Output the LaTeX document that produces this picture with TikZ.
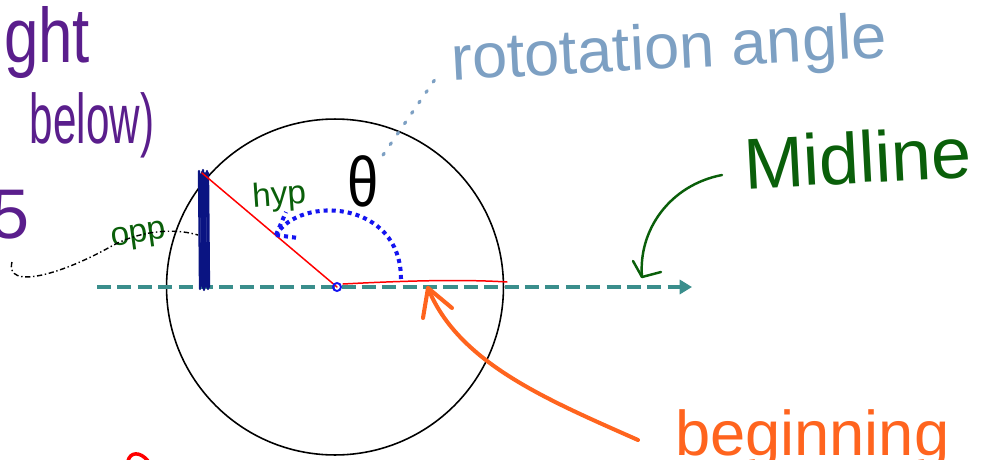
\documentclass[tikz,border=0pt]{standalone}
\usepackage{fontspec}
\setmainfont{Liberation Sans}
\usetikzlibrary{arrows.meta,calc}
\definecolor{tealc}{RGB}{58,142,140}
\definecolor{purp}{RGB}{90,30,140}
\definecolor{dgreen}{RGB}{10,95,10}
\definecolor{sky}{RGB}{125,160,195}
\definecolor{orng}{RGB}{255,100,30}
\definecolor{navyc}{RGB}{10,20,130}
\definecolor{bluec}{RGB}{20,20,240}
\begin{document}
\begin{tikzpicture}[x=0.02cm,y=-0.02cm,
  lbl/.style={inner sep=0pt,outer sep=0pt},
  hand/.style={line cap=round,line join=round},
  midl/.style={tealc,line width=2.6pt,dash pattern=on 8pt off 3.6pt,-{Triangle[length=7pt,width=8pt]}},
  redl/.style={red,line width=0.85pt,hand},
  bdots/.style={bluec,line width=2.3pt,dash pattern=on 2.3pt off 2.3pt},
  skydots/.style={sky,line width=1.8pt,dash pattern=on 1.2pt off 6pt,line cap=round},
  orarrow/.style={orng,line width=2.3pt,hand},
  grarrow/.style={dgreen,line width=1.4pt,hand}]
\clip (0,0) rectangle (981,460);
\fill[white] (0,0) rectangle (981,460);

% coordinates
\coordinate (O) at (337,287);
\coordinate (P) at (202,173);
\coordinate (R) at (507,282);
\coordinate (ML) at (97,287);
\coordinate (MR) at (692,287);

% circle
\draw[black,line width=0.9pt] (335,287) ellipse [x radius=3.37cm, y radius=3.36cm];

% midline
\draw[midl] (ML) -- (MR);

% navy opposite bar
\foreach \dx/\dy in {0/0,2/3,4/-1,6/2,8/0,3/1,5/4,9/2} {
  \draw[navyc,line width=1.3pt,hand] ($(P)+(\dx-3,\dy-2)$) -- ($(202,289)+(\dx-2,-\dy)$);
}

% red lines
\draw[redl] (P) -- (O);
\draw[redl] (343,284) .. controls (400,281) and (460,279) .. (R);

% blue dotted angle arc
\coordinate (A1) at (401,279);
\coordinate (A2) at (276,235);
\draw[bdots] (A1) .. controls (401,200) and (300,195) .. (A2);
\draw[bdots] (A2) -- (286,212);
\draw[bdots] (A2) -- (298,238);
\draw[bluec,line width=1.1pt] (O) circle [radius=4];

% theta
\node[lbl] (th) at (363,181) {\fontsize{40}{40}\selectfont\scalebox{0.8}[1]{θ}};

% rotation angle label and dotted leader
\coordinate (S1) at (383,155);
\coordinate (S2) at (438,75);
\draw[skydots] (S1) -- (S2);
\node[lbl,sky,anchor=base west,rotate=3] (rot) at (452,80) {\fontsize{36}{36}\selectfont rototation angle};

% Midline label and arrow
\node[lbl,dgreen,anchor=base west,rotate=3] (mid) at (745,189) {\fontsize{41}{41}\selectfont Midline};
\coordinate (G1) at (722,175);
\coordinate (G2) at (642,277);
\draw[grarrow] (G1) .. controls (670,185) and (638,230) .. (G2);
\draw[grarrow] (633,261) -- (G2) -- (661,272);

% beginning label and orange arrow
\node[lbl,orng,anchor=base west] (beg) at (675,455) {\fontsize{36}{36}\selectfont beginning};
\coordinate (B1) at (638,440);
\coordinate (B2) at (428,288);
\draw[orarrow] (B1) .. controls (548,400) and (458,363) .. (B2);
\draw[orarrow] (423,318) -- (B2) -- (452,308);

% hyp and opp
\node[lbl,dgreen,anchor=base west,rotate=4] (hyp) at (253,207) {\fontsize{19}{19}\selectfont hyp};
\node[lbl,dgreen,anchor=base west,rotate=8] (opp) at (112,246) {\fontsize{19}{19}\selectfont opp};

% dash-dot curve
\coordinate (D1) at (12,262);
\coordinate (D2) at (198,235);
\draw[black,line width=0.8pt,dash pattern=on 3pt off 1.5pt on 0.8pt off 1.5pt]
  (D1) .. controls (5,290) and (60,275) .. (110,247) .. controls (140,230) and (175,228) .. (D2);

% purple texts at left
\node[lbl,purp,anchor=base east] (ight) at (90,62) {\fontsize{44}{44}\selectfont\scalebox{0.8}[1]{ight}};
\node[lbl,purp,anchor=base west] (below) at (30,143) {\fontsize{40}{40}\selectfont\scalebox{0.6}[1]{below)}};
\node[lbl,purp,anchor=base east] (five) at (30,238) {\fontsize{40}{40}\selectfont 5};

% small red hook bottom
\coordinate (H1) at (128,461);
\coordinate (H2) at (148,461);
\draw[red,line width=2pt,hand] (H1) .. controls (130,452) and (140,451) .. (H2);
\end{tikzpicture}
\end{document}
